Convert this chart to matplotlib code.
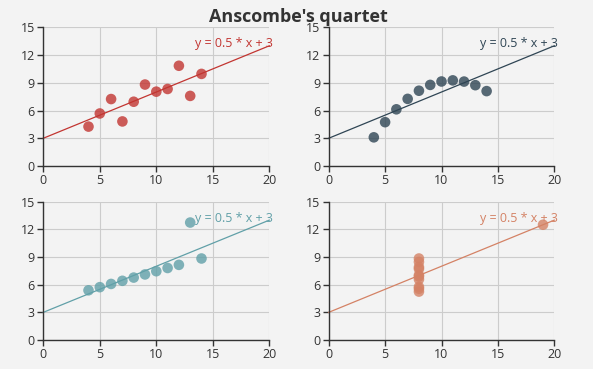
import matplotlib
matplotlib.use("Agg")
import matplotlib.pyplot as plt

plt.rcParams['font.family'] = ['Open Sans', 'DejaVu Sans']

x_1 = [10, 8, 13, 9, 11, 14, 6, 4, 12, 7, 5]
y_1 = [8.04, 6.95, 7.58, 8.81, 8.33, 9.96, 7.24, 4.26, 10.84, 4.82, 5.68]
x_2 = [10, 8, 13, 9, 11, 14, 6, 4, 12, 7, 5]
y_2 = [9.14, 8.14, 8.74, 8.77, 9.26, 8.10, 6.13, 3.10, 9.13, 7.26, 4.74]
x_3 = [10, 8, 13, 9, 11, 14, 6, 4, 12, 7, 5]
y_3 = [7.46, 6.77, 12.74, 7.11, 7.81, 8.84, 6.08, 5.39, 8.15, 6.42, 5.73]
x_4 = [8, 8, 8, 8, 8, 8, 8, 19, 8, 8, 8]
y_4 = [6.58, 5.76, 7.71, 8.84, 8.47, 7.04, 5.25, 12.50, 5.56, 7.91, 6.89]

line_start = (0, 3)
line_end = (20, 13)
line_label = "y = 0.5 * x + 3"
x_ticks = [0, 5, 10, 15, 20]
y_ticks = [0, 3, 6, 9, 12, 15]
title = "Anscombe's quartet"

colors = ['#c23531', '#2f4554', '#61a0a8', '#d48265']
datasets = [(x_1, y_1), (x_2, y_2), (x_3, y_3), (x_4, y_4)]

W, H = 593, 369
fig = plt.figure(figsize=(W / 100, H / 100), dpi=100)
fig.patch.set_facecolor('#f3f3f3')

boxes = [
    (43.3, 27.3, 269.3, 166.0),
    (328.7, 27.3, 554.3, 166.0),
    (43.3, 201.7, 269.3, 340.0),
    (328.7, 201.7, 554.3, 340.0),
]

for (xs, ys), c, (l, t, r, b) in zip(datasets, colors, boxes):
    ax = fig.add_axes([l / W, 1 - b / H, (r - l) / W, (b - t) / H])
    ax.set_facecolor('none')
    ax.set_xlim(0, 20)
    ax.set_ylim(0, 15)
    ax.set_xticks(x_ticks)
    ax.set_yticks(y_ticks)
    ax.grid(True, color='#cccccc', linewidth=0.8)
    ax.set_axisbelow(True)
    for s in ['top', 'right']:
        ax.spines[s].set_visible(False)
    for s in ['left', 'bottom']:
        ax.spines[s].set_color('#333333')
        ax.spines[s].set_linewidth(1)
    ax.tick_params(colors='#333333', labelcolor='#333333', labelsize=9,
                   length=4, width=1, pad=2)
    ax.scatter(xs, ys, s=58, color=c, alpha=0.8, edgecolors='none', zorder=3)
    ax.plot([line_start[0], line_end[0]], [line_start[1], line_end[1]],
            color=c, linewidth=0.9, zorder=2, clip_on=False)
    ax.text(line_end[0] + 0.35, line_end[1] + 0.2, line_label, color=c,
            fontsize=9, ha='right', va='center', zorder=4)

fig.text(298 / W, 1 - 17 / H, title, ha='center', va='center',
         fontsize=13, fontweight='bold', color='#333333')

fig.savefig('out.png', dpi=100, facecolor=fig.get_facecolor())
